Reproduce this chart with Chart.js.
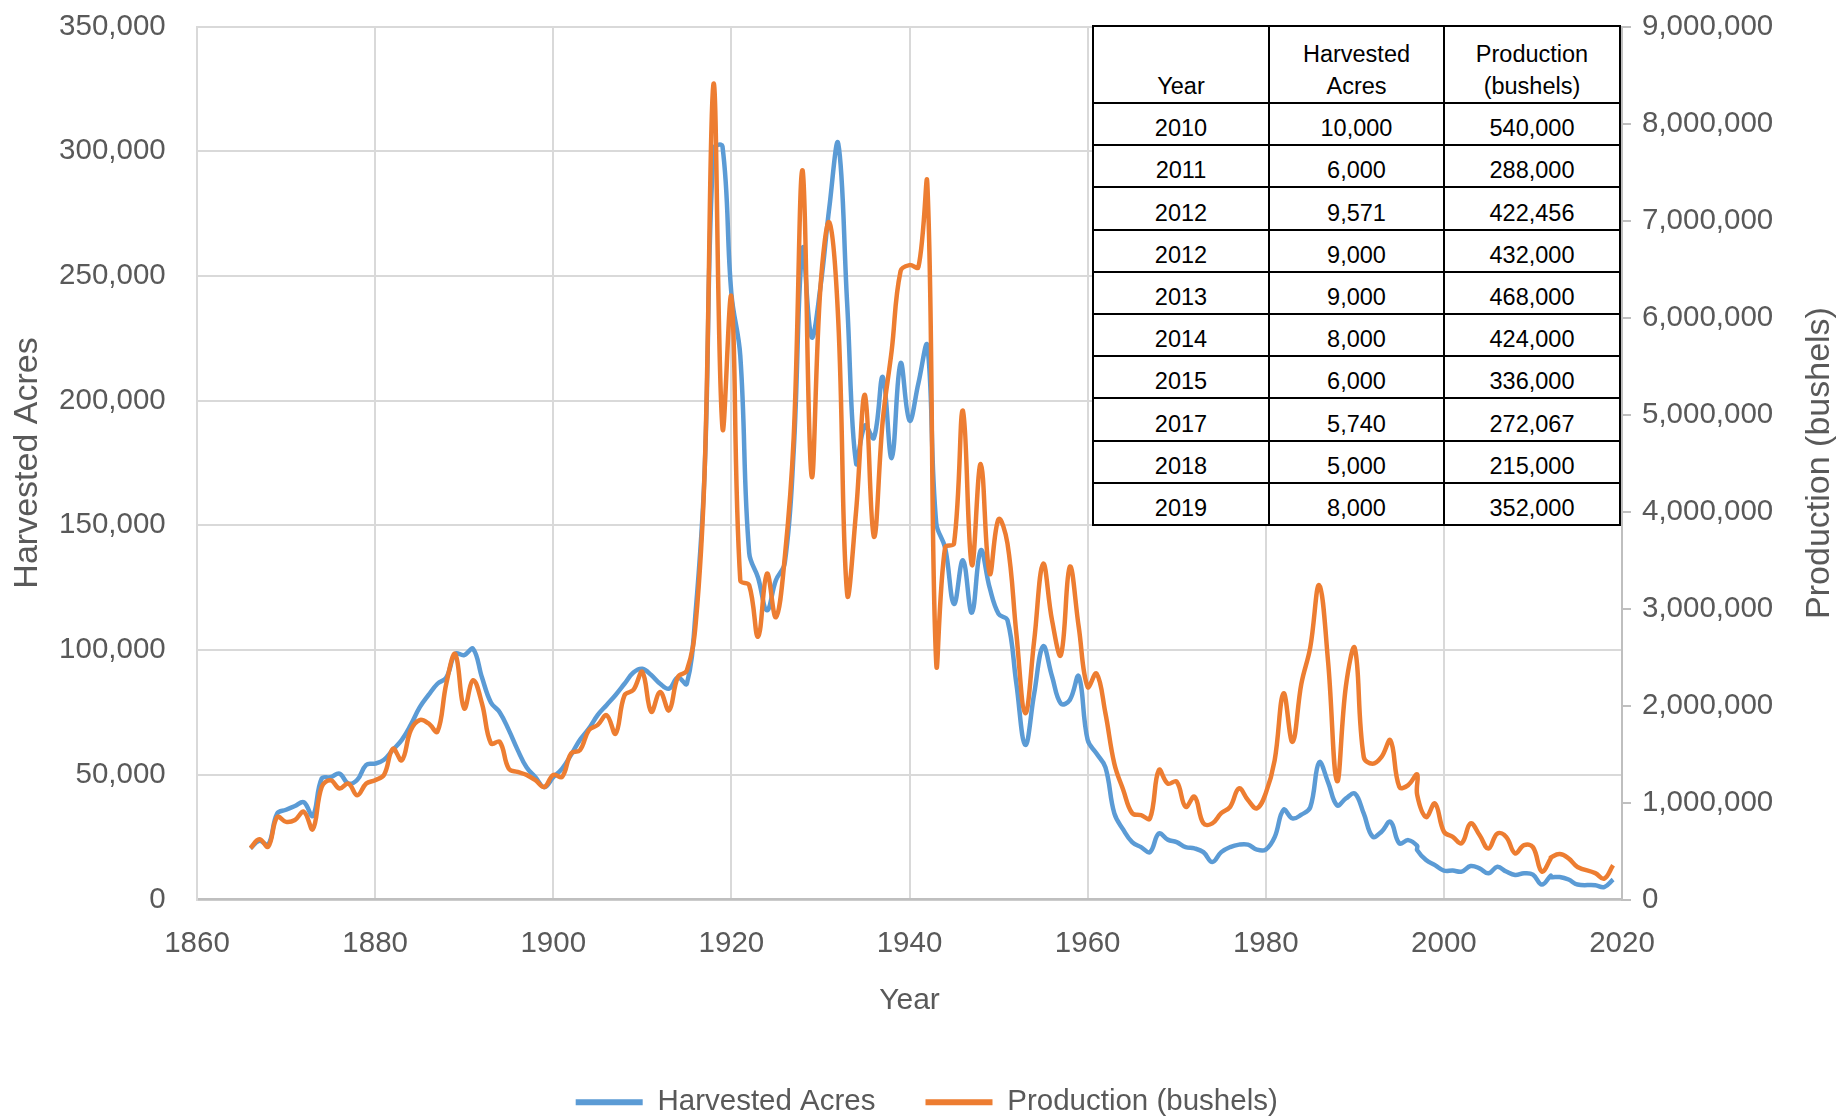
<!DOCTYPE html>
<html>
<head>
<meta charset="utf-8">
<title>Harvested Acres and Production</title>
<script src="https://cdn.jsdelivr.net/npm/chart.js@4.4.1/dist/chart.umd.min.js"></script>
<style>
  html, body { margin: 0; padding: 0; background: #ffffff; }
  #wrap { position: relative; width: 1839px; height: 1119px; overflow: hidden; }
  #chart { position: absolute; left: 0; top: 0; }
  #recent {
    position: absolute; left: 1092px; top: 25px;
    display: grid;
    grid-template-columns: 176px 175px 176px;
    grid-template-rows: 77px repeat(10, 42.2px);
    border-left: 2px solid #000; border-top: 2px solid #000;
    background: #ffffff;
    font-family: 'Liberation Sans', Arial, sans-serif; font-size: 23.5px; color: #000;
  }
  #recent div {
    box-sizing: border-box;
    border-right: 2px solid #000; border-bottom: 2px solid #000;
    display: flex; align-items: flex-end; justify-content: center;
    text-align: center; line-height: 24px; padding-bottom: 4px;
  }
  #recent div.head { line-height: 32px; padding-bottom: 0px; }
</style>
</head>
<body>
<div id="wrap">
  <canvas id="chart" width="1839" height="1119"></canvas>
  <div id="recent"></div>
</div>
<script>
// Annual record, 1866-2019
const years = [
  1866, 1867, 1868, 1869,
  1870, 1871, 1872, 1873, 1874, 1875, 1876, 1877, 1878, 1879,
  1880, 1881, 1882, 1883, 1884, 1885, 1886, 1887, 1888, 1889,
  1890, 1891, 1892, 1893, 1894, 1895, 1896, 1897, 1898, 1899,
  1900, 1901, 1902, 1903, 1904, 1905, 1906, 1907, 1908, 1909,
  1910, 1911, 1912, 1913, 1914, 1915, 1916, 1917, 1918, 1919,
  1920, 1921, 1922, 1923, 1924, 1925, 1926, 1927, 1928, 1929,
  1930, 1931, 1932, 1933, 1934, 1935, 1936, 1937, 1938, 1939,
  1940, 1941, 1942, 1943, 1944, 1945, 1946, 1947, 1948, 1949,
  1950, 1951, 1952, 1953, 1954, 1955, 1956, 1957, 1958, 1959,
  1960, 1961, 1962, 1963, 1964, 1965, 1966, 1967, 1968, 1969,
  1970, 1971, 1972, 1973, 1974, 1975, 1976, 1977, 1978, 1979,
  1980, 1981, 1982, 1983, 1984, 1985, 1986, 1987, 1988, 1989,
  1990, 1991, 1992, 1993, 1994, 1995, 1996, 1997, 1997, 1998, 1999,
  2000, 2001, 2002, 2003, 2004, 2005, 2006, 2007, 2008, 2009,
  2010, 2011, 2012, 2012, 2013, 2014, 2015, 2017, 2018, 2019
];

const harvestedAcres = [
  20500, 23500, 22000, 34500,
  36000, 37500, 39000, 33500, 48500, 49000, 50500, 46500, 48000, 54000,
  54500, 56000, 60000, 64000, 70000, 77000, 82000, 86500, 89000, 98500,
  98000, 100500, 89000, 79000, 75000, 68000, 60000, 53000, 49000, 45000,
  49000, 52500, 58000, 64000, 68500, 74000, 78000, 82000, 86500, 91000,
  92500, 90000, 86500, 84500, 89000, 86500, 116000, 172000, 301000, 302000,
  243000, 218000, 139000, 129000, 116000, 128000, 135000, 180000, 261000, 225500,
  245500, 277500, 303000, 239000, 175000, 190000, 185000, 209500, 177000, 215000,
  192000, 207000, 222000, 151000, 141000, 118500, 136000, 115000, 140000, 125000,
  114500, 112000, 86500, 62000, 82500, 101500, 89500, 78500, 80000, 89500,
  64000, 58500, 53000, 34500, 28000, 23000, 21000, 19000, 26500, 24000,
  23000, 21000, 20500, 19000, 15000, 19000, 21000, 22000, 22000, 20000,
  20000, 25000, 36000, 32500, 34000, 37000, 55000, 47000, 37800, 40500,
  42500, 34500, 25200, 27200, 31200, 22500, 23800, 21500, 19800, 15800, 13800,
  11600, 11600, 11200, 13400, 12500, 10500, 13100, 11200, 9800, 10500,
  10000, 6000, 9571, 9000, 9000, 8000, 6000, 5740, 5000, 8000
];

const productionBushels = [
  530000, 620000, 545000, 850000,
  800000, 820000, 905000, 725000, 1160000, 1230000, 1145000, 1195000, 1075000, 1195000,
  1230000, 1285000, 1555000, 1435000, 1745000, 1850000, 1815000, 1730000, 2230000, 2530000,
  1970000, 2260000, 2020000, 1610000, 1625000, 1350000, 1315000, 1285000, 1230000, 1160000,
  1285000, 1265000, 1505000, 1540000, 1745000, 1800000, 1900000, 1710000, 2105000, 2160000,
  2345000, 1935000, 2140000, 1950000, 2295000, 2360000, 2850000, 4420000, 8410000, 4860000,
  6210000, 3290000, 3240000, 2710000, 3360000, 2910000, 3530000, 4770000, 7515000, 4370000,
  6310000, 6980000, 5970000, 3150000, 4000000, 5200000, 3740000, 4940000, 5660000, 6480000,
  6540000, 6520000, 7380000, 2440000, 3630000, 3670000, 5040000, 3450000, 4490000, 3360000,
  3920000, 3670000, 2740000, 1920000, 2670000, 3460000, 2880000, 2520000, 3430000, 2810000,
  2190000, 2330000, 1920000, 1400000, 1130000, 890000, 870000, 835000, 1335000, 1195000,
  1215000, 955000, 1060000, 785000, 785000, 890000, 955000, 1145000, 1025000, 940000,
  1095000, 1435000, 2125000, 1625000, 2225000, 2600000, 3240000, 2450000, 1220000, 2200000,
  2590000, 1470000, 1400000, 1470000, 1640000, 1160000, 1180000, 1290000, 1080000, 850000, 990000,
  700000, 645000, 580000, 785000, 665000, 525000, 680000, 645000, 475000, 560000,
  540000, 288000, 422456, 432000, 468000, 424000, 336000, 272067, 215000, 352000
];

// Axis tick values
const yearTicks = [1860, 1880, 1900, 1920, 1940, 1960, 1980, 2000, 2020];
const acresTicks = [0, 50000, 100000, 150000, 200000, 250000, 300000, 350000];
const productionTicks = [0, 1000000, 2000000, 3000000, 4000000, 5000000, 6000000, 7000000, 8000000, 9000000];

// The inset table lists the most recent rows of the record
const tableRows = 10;
const tableHeader = ['Year', 'Harvested<br>Acres', 'Production<br>(bushels)'];

const FONT = "'Liberation Sans', Arial, sans-serif";
const GREY_TEXT = '#595959';
const GRID = '#D9D9D9';
const fmt = v => Number(v).toLocaleString('en-US');

// Build the inset table
(function buildTable() {
  const box = document.getElementById('recent');
  tableHeader.forEach(h => {
    const c = document.createElement('div');
    c.className = 'head';
    c.innerHTML = h;
    box.appendChild(c);
  });
  const start = years.length - tableRows;
  for (let i = start; i < years.length; i++) {
    [String(years[i]), fmt(harvestedAcres[i]), fmt(productionBushels[i])].forEach(t => {
      const c = document.createElement('div');
      c.textContent = t;
      box.appendChild(c);
    });
  }
})();

const toPoints = arr => years.map((yr, i) => ({ x: yr, y: arr[i] }));

// Right-hand axis title reads bottom-to-top, like the left one
const rightAxisTitle = {
  id: 'rightAxisTitle',
  afterDraw(chart) {
    const { ctx, chartArea } = chart;
    ctx.save();
    ctx.translate(1820, (chartArea.top + chartArea.bottom) / 2);
    ctx.rotate(-Math.PI / 2);
    ctx.font = `34px ${FONT}`;
    ctx.fillStyle = GREY_TEXT;
    ctx.textAlign = 'center';
    ctx.textBaseline = 'middle';
    ctx.fillText('Production (bushels)', 0, 0);
    ctx.restore();
  }
};

// Fixed axis sizes; the tick labels at the ends may overhang the plot
const fixVertical = width => s => {
  s.width = width;
  s.paddingTop = 0;
  s.paddingBottom = 0;
};

Chart.defaults.font.family = FONT;
Chart.defaults.color = GREY_TEXT;

new Chart(document.getElementById('chart'), {
  type: 'line',
  data: {
    datasets: [
      {
        label: 'Harvested Acres',
        data: toPoints(harvestedAcres),
        yAxisID: 'y',
        borderColor: '#5B9BD5',
        backgroundColor: '#5B9BD5',
        borderWidth: 4.5,
        pointRadius: 0,
        tension: 0.4,
        order: 2
      },
      {
        label: 'Production (bushels)',
        data: toPoints(productionBushels),
        yAxisID: 'y1',
        borderColor: '#ED7D31',
        backgroundColor: '#ED7D31',
        borderWidth: 4.5,
        pointRadius: 0,
        tension: 0.4,
        order: 1
      }
    ]
  },
  options: {
    responsive: false,
    animation: false,
    devicePixelRatio: 1,
    layout: { padding: { left: 14.5, right: 0, top: 26.5, bottom: -8 } },
    plugins: {
      tooltip: { enabled: false },
      legend: {
        position: 'bottom',
        labels: {
          font: { size: 29.5 },
          color: GREY_TEXT,
          boxWidth: 67,
          boxHeight: 6,
          padding: 50,
          sort: (a, b) => a.datasetIndex - b.datasetIndex,
          generateLabels(chart) {
            const items = Chart.defaults.plugins.legend.labels.generateLabels(chart);
            items.forEach(it => { it.lineWidth = 0; it.fillStyle = it.strokeStyle; });
            return items;
          }
        }
      }
    },
    scales: {
      x: {
        type: 'linear',
        min: 1860,
        max: 2020,
        afterBuildTicks: s => { s.ticks = yearTicks.map(v => ({ value: v })); },
        afterFit: s => { s.height = 138; },
        ticks: { font: { size: 29.5 }, color: GREY_TEXT, padding: 27, callback: v => String(v) },
        grid: { color: GRID, lineWidth: 2, drawTicks: false },
        border: { color: '#BFBFBF', width: 2.5 },
        title: { display: true, text: 'Year', font: { size: 30 }, color: GREY_TEXT, padding: { top: 0, bottom: 18.5 } }
      },
      y: {
        position: 'left',
        min: 0,
        max: 350000,
        afterBuildTicks: s => { s.ticks = acresTicks.map(v => ({ value: v })); },
        afterFit: fixVertical(182.5),
        ticks: { font: { size: 29.5 }, color: GREY_TEXT, padding: 31.3, callback: v => fmt(v) },
        grid: { color: GRID, lineWidth: 2, drawTicks: false },
        border: { color: GRID, width: 2 },
        title: { display: true, text: 'Harvested Acres', font: { size: 34 }, color: GREY_TEXT, padding: { top: -7, bottom: 0 } }
      },
      y1: {
        position: 'right',
        min: 0,
        max: 9000000,
        afterBuildTicks: s => { s.ticks = productionTicks.map(v => ({ value: v })); },
        afterFit: fixVertical(217),
        ticks: { font: { size: 29.5 }, color: GREY_TEXT, padding: 11, callback: v => fmt(v) },
        grid: { drawOnChartArea: false, drawTicks: true, tickLength: 9, color: '#BFBFBF', lineWidth: 2 },
        border: { color: '#BFBFBF', width: 2 }
      }
    }
  },
  plugins: [rightAxisTitle]
});
</script>
</body>
</html>
